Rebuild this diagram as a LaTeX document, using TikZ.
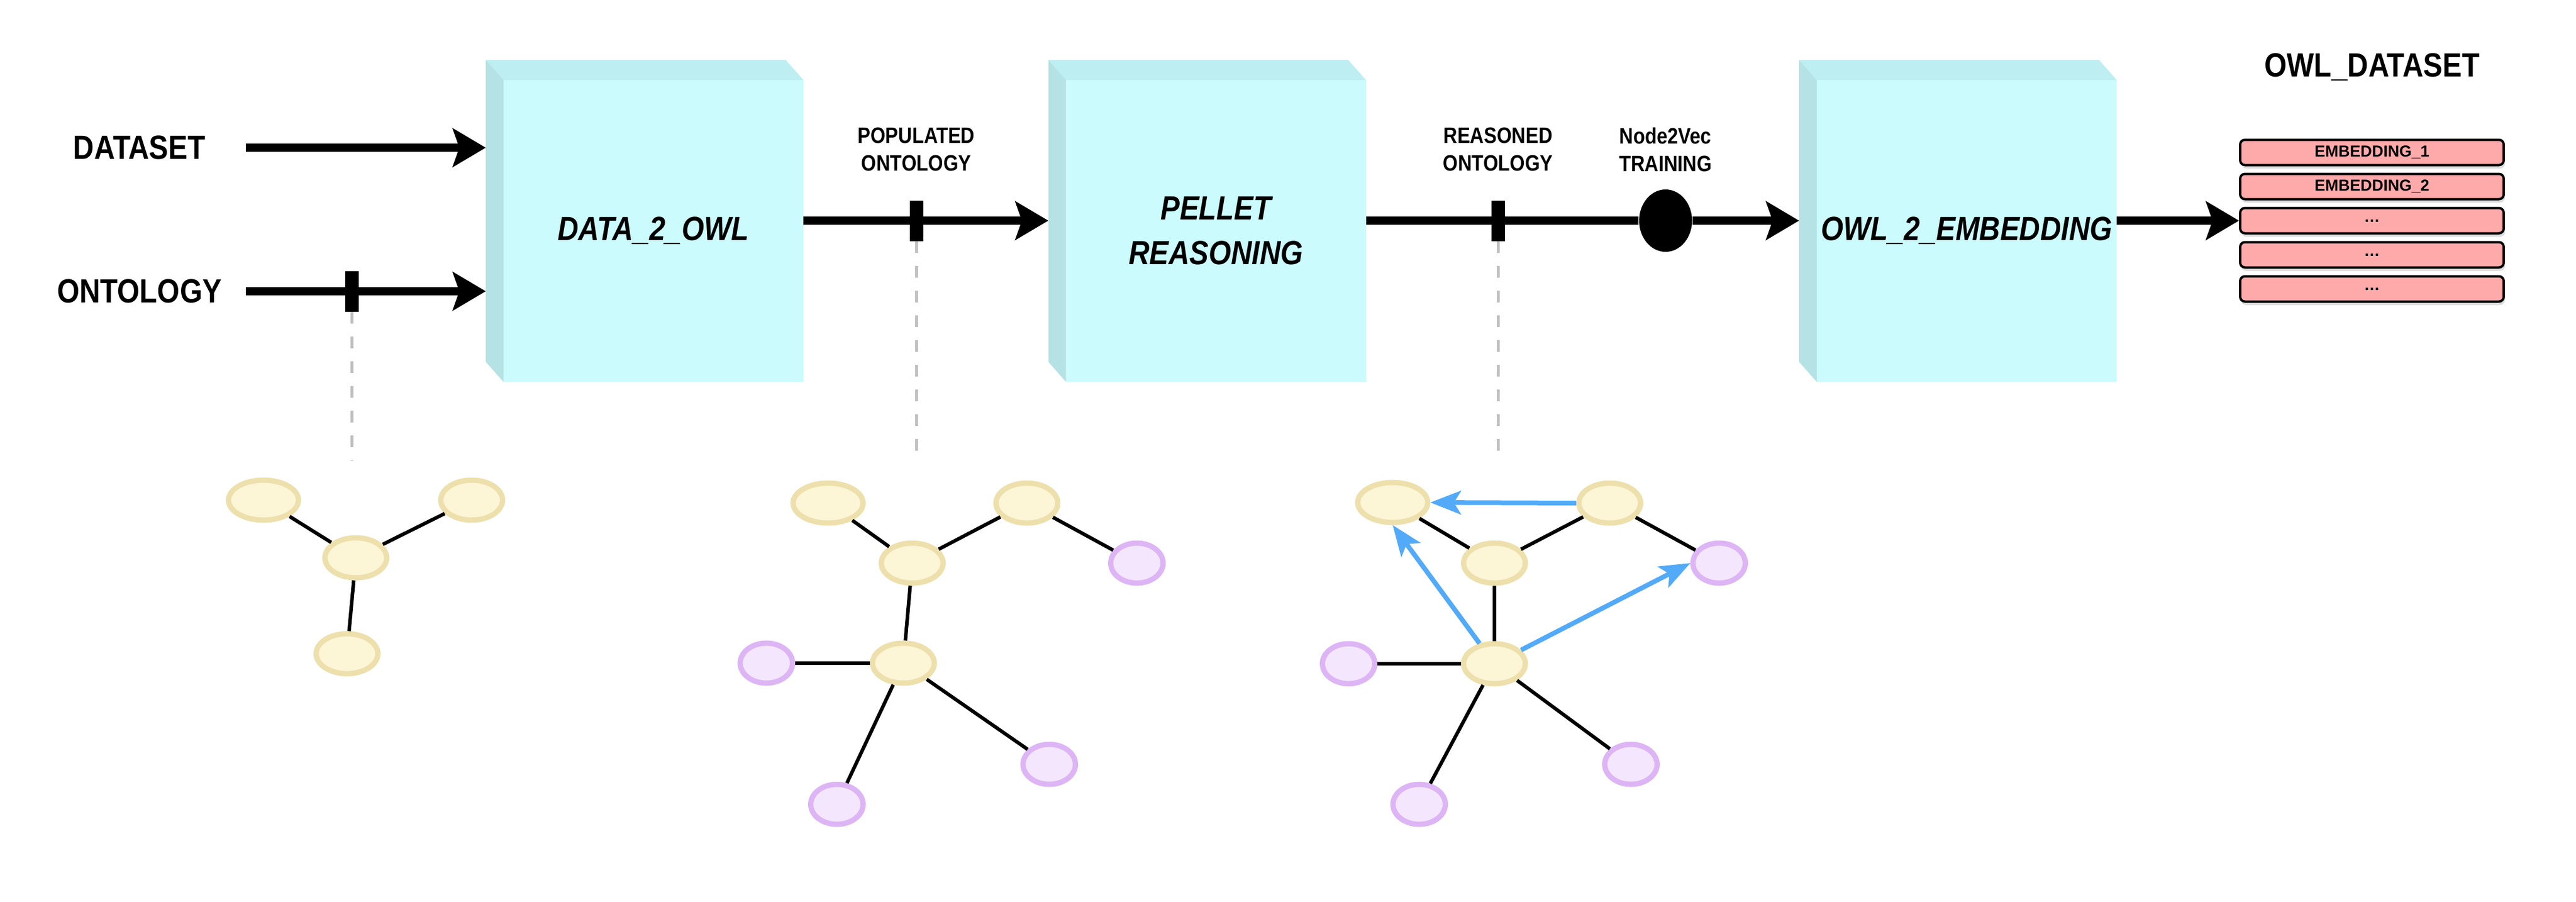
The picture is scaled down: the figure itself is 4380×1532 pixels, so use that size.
\documentclass[tikz,border=0pt]{standalone}
\usepackage{fontspec}
\setmainfont{Liberation Sans}[FakeStretch=0.86]
\newfontfamily\embfont{Liberation Sans}
\usetikzlibrary{arrows.meta,shapes.geometric,shadows}
\definecolor{dcolor0001}{RGB}{204,251,253}
\definecolor{dcolor0002}{RGB}{189,238,241}
\definecolor{dcolor0003}{RGB}{181,226,229}
\definecolor{dcolor0004}{RGB}{252,245,214}
\definecolor{dcolor0005}{RGB}{237,224,172}
\definecolor{dcolor0006}{RGB}{244,230,252}
\definecolor{dcolor0007}{RGB}{221,181,245}
\definecolor{dcolor0008}{RGB}{82,170,248}
\definecolor{dcolor0009}{RGB}{255,170,170}
\definecolor{dcolor0010}{RGB}{192,192,192}
\begin{document}
\begin{tikzpicture}[x=0.25pt,y=-0.25pt
,dstyle0/.style={color=black,line width=3.5pt,-{Stealth[length=14pt,width=16.25pt,inset=2.75pt]}}
,dstyle1/.style={color=black,line width=3.5pt}
,dstyle2/.style={fill=dcolor0001,minimum width=127.5pt,minimum height=128.25pt,inner sep=0pt,outer sep=0pt,align=center,font=\fontsize{14.25}{19}\selectfont\bfseries\itshape}
,dstyle3/.style={fill=black,minimum width=5.75pt,minimum height=17.25pt,inner sep=0pt,outer sep=0pt}
,dstyle4/.style={color=dcolor0010,line width=1.25pt,dash pattern=on 5pt off 5.5pt}
,dstyle5/.style={ellipse,draw=dcolor0005,fill=dcolor0004,line width=2.25pt,minimum width=26.25pt,minimum height=17pt,inner sep=0pt}
,dstyle6/.style={dstyle5,minimum width=29.75pt}
,dstyle7/.style={ellipse,draw=dcolor0007,fill=dcolor0006,line width=2.25pt,minimum width=22.25pt,minimum height=17pt,inner sep=0pt}
,dstyle8/.style={color=black,line width=1.5pt}
,dstyle9/.style={color=dcolor0008,line width=2pt,-{Stealth[length=13pt,width=10pt,inset=3pt]}}
,dstyle10/.style={draw=black,line width=1pt,fill=dcolor0009,rounded corners=2pt,minimum width=112pt,minimum height=10.75pt,inner sep=0pt,drop shadow={shadow xshift=0.5pt,shadow yshift=-1.5pt,opacity=0.25},font=\embfont\bfseries\fontsize{6.75}{8}\selectfont}
,dstyle11/.style={font=\fontsize{14.25}{19}\selectfont\bfseries,inner sep=0pt}
,dstyle12/.style={font=\fontsize{9.5}{11.75}\selectfont\bfseries,align=center,inner sep=0pt}
]
\useasboundingbox (0,0) rectangle (4380,1532);
\coordinate (axis) at (0,375);
\node[dstyle2] (d2o) at (1111,392.5) {DATA\_2\_OWL};
\node[dstyle2] (pel) at (2067.5,392.5) {PELLET\\REASONING};
\node[dstyle2] (o2e) at (3344,392.5) {OWL\_2\_EMBEDDING};
\foreach \n in {d2o,pel,o2e}{
\fill[dcolor0002] (\n.north west) -- ++(-30,-34) -- ++(510,0) -- (\n.north east) -- cycle;
\fill[dcolor0003] (\n.north west) -- ++(-30,-34) -- ++(0,513) -- (\n.south west) -- cycle;
}
\coordinate (d2oin) at ([xshift=-7.5pt]d2o.west);
\coordinate (pelin) at ([xshift=-7.5pt]pel.west);
\coordinate (o2ein) at ([xshift=-7.5pt]o2e.west);
\node[dstyle11] (dset) at (237,251) {DATASET};
\node[dstyle11] (onto) at (237,495) {ONTOLOGY};
\coordinate (dsetout) at (418,251);
\coordinate (ontoout) at (418,495);
\draw[dstyle0] (dsetout) -- (dsetout -| d2oin);
\draw[dstyle0] (ontoout) -- (ontoout -| d2oin);
\node[dstyle3] (tk1) at (598,495) {};
\draw[dstyle0] (d2o.east |- axis) -- (pelin |- axis);
\node[dstyle3] (tk2) at (1558,375) {};
\node[ellipse,fill=black,minimum width=22.5pt,minimum height=26.5pt,inner sep=0pt] (n2v) at (2832,375) {};
\draw[dstyle1] (pel.east |- axis) -- (n2v);
\node[dstyle3] (tk3) at (2547,375) {};
\draw[dstyle0] (n2v) -- (o2ein |- axis);
\foreach \i/\t/\y in {1/EMBEDDING\_1/259,2/EMBEDDING\_2/317,3/\dots/375,4/\dots/433,5/\dots/491}
\node[dstyle10] (row\i) at (4033,\y) {\t};
\draw[dstyle0] (o2e.east |- axis) -- (row3.west);
\node[dstyle11] (owlds) at (4033,114) {OWL\_DATASET};
\node[dstyle12] (lbl1) at (1558,254) {POPULATED\\ONTOLOGY};
\node[dstyle12] (lbl2) at (2547,254) {REASONED\\ONTOLOGY};
\node[dstyle12] (lbl3) at (2832,254) {Node2Vec\\TRAINING};
\coordinate (g1top) at (598,782);
\coordinate (g2top) at (1558,782);
\coordinate (g3top) at (2547,782);
\draw[dstyle4] (tk1.south) -- (g1top);
\draw[dstyle4] (tk2.south) -- (g2top);
\draw[dstyle4] (tk3.south) -- (g3top);
\node[dstyle6] (ga1) at (448,850) {};
\node[dstyle5] (ga2) at (802,850) {};
\node[dstyle5] (ga3) at (605,948) {};
\node[dstyle5] (ga4) at (590,1111) {};
\draw[dstyle8] (ga1) -- (ga3) (ga2) -- (ga3) (ga3) -- (ga4);
\node[dstyle6] (gb1) at (1408,855) {};
\node[dstyle5] (gb2) at (1746,855) {};
\node[dstyle5] (gb3) at (1551,957) {};
\node[dstyle7] (gb4) at (1933,957) {};
\node[dstyle5] (gb5) at (1536,1127) {};
\node[dstyle7] (gb6) at (1303,1127) {};
\node[dstyle7] (gb7) at (1784,1299) {};
\node[dstyle7] (gb8) at (1423,1367) {};
\draw[dstyle8] (gb1) -- (gb3) (gb2) -- (gb3) (gb2) -- (gb4) (gb3) -- (gb5) (gb5) -- (gb6) (gb5) -- (gb7) (gb5) -- (gb8);
\node[dstyle6] (gc1) at (2368,854) {};
\node[dstyle5] (gc2) at (2737,855) {};
\node[dstyle5] (gc3) at (2541,957) {};
\node[dstyle7] (gc4) at (2923,957) {};
\node[dstyle5] (gc5) at (2541,1128) {};
\node[dstyle7] (gc6) at (2293,1128) {};
\node[dstyle7] (gc7) at (2773,1299) {};
\node[dstyle7] (gc8) at (2413,1367) {};
\draw[dstyle8] (gc1) -- (gc3) (gc2) -- (gc3) (gc2) -- (gc4) (gc3) -- (gc5) (gc5) -- (gc6) (gc5) -- (gc7) (gc5) -- (gc8);
\draw[dstyle9] (gc2.west) -- (gc1.east);
\draw[dstyle9] (gc5) -- (gc1.south);
\draw[dstyle9] (gc5) -- (gc4.west);
\end{tikzpicture}
\end{document}
